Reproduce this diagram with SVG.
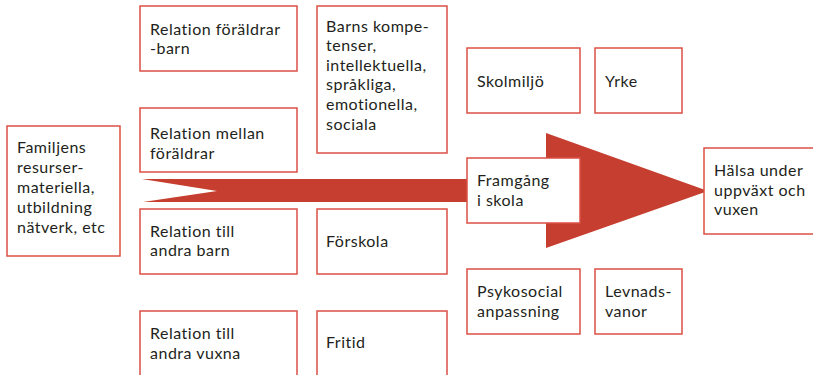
<svg xmlns="http://www.w3.org/2000/svg" width="813" height="375" viewBox="0 0 813 375">
  <style>
    .box { fill: #ffffff; stroke: #dc5046; stroke-width: 1.5; }
    .lbl { font-family: Lato, "Open Sans", sans-serif; font-size: 16px; letter-spacing: 0.5px; fill: #231f20; }
    .arrow { fill: #c63e2f; }
  </style>
  <rect width="813" height="375" fill="#ffffff"/>

  <!-- main arrow from family resources to health -->
  <g id="connectors">
    <polygon class="arrow" points="142,179 546,179 546,133 708,191 546,248 546,202 143,202 217,191"/>
  </g>

  <g id="familjens">
    <rect class="box" x="7" y="126" width="113" height="130"/>
    <text class="lbl" x="17" y="153">Familjens</text>
    <text class="lbl" x="17" y="173">resurser-</text>
    <text class="lbl" x="17" y="193">materiella,</text>
    <text class="lbl" x="17" y="213">utbildning</text>
    <text class="lbl" x="17" y="233">nätverk, etc</text>
  </g>

  <g id="rel-foraldrar-barn">
    <rect class="box" x="140" y="6" width="157" height="65"/>
    <text class="lbl" x="150" y="35">Relation föräldrar</text>
    <text class="lbl" x="150" y="54">-barn</text>
  </g>

  <g id="rel-mellan-foraldrar">
    <rect class="box" x="140" y="108" width="157" height="64"/>
    <text class="lbl" x="150" y="139">Relation mellan</text>
    <text class="lbl" x="150" y="159">föräldrar</text>
  </g>

  <g id="rel-andra-barn">
    <rect class="box" x="140" y="209" width="157" height="65"/>
    <text class="lbl" x="150" y="237">Relation till</text>
    <text class="lbl" x="150" y="256">andra barn</text>
  </g>

  <g id="rel-andra-vuxna">
    <rect class="box" x="140" y="311" width="157" height="70"/>
    <text class="lbl" x="150" y="339">Relation till</text>
    <text class="lbl" x="150" y="359">andra vuxna</text>
  </g>

  <g id="barns-kompetenser">
    <rect class="box" x="317" y="6" width="130" height="147"/>
    <text class="lbl" x="326" y="32">Barns kompe-</text>
    <text class="lbl" x="326" y="51">tenser,</text>
    <text class="lbl" x="326" y="71">intellektuella,</text>
    <text class="lbl" x="326" y="90">språkliga,</text>
    <text class="lbl" x="326" y="110">emotionella,</text>
    <text class="lbl" x="326" y="130">sociala</text>
  </g>

  <g id="forskola">
    <rect class="box" x="317" y="209" width="130" height="65"/>
    <text class="lbl" x="326" y="247">Förskola</text>
  </g>

  <g id="fritid">
    <rect class="box" x="317" y="311" width="130" height="70"/>
    <text class="lbl" x="326" y="348">Fritid</text>
  </g>

  <g id="skolmiljo">
    <rect class="box" x="467" y="48" width="113" height="65"/>
    <text class="lbl" x="477" y="87">Skolmiljö</text>
  </g>

  <g id="yrke">
    <rect class="box" x="595" y="48" width="87" height="65"/>
    <text class="lbl" x="605" y="87">Yrke</text>
  </g>

  <g id="framgang">
    <rect class="box" x="467" y="158" width="113" height="65"/>
    <text class="lbl" x="477" y="186">Framgång</text>
    <text class="lbl" x="477" y="206">i skola</text>
  </g>

  <g id="psykosocial">
    <rect class="box" x="467" y="269" width="113" height="65"/>
    <text class="lbl" x="477" y="297">Psykosocial</text>
    <text class="lbl" x="477" y="317">anpassning</text>
  </g>

  <g id="levnadsvanor">
    <rect class="box" x="595" y="269" width="87" height="65"/>
    <text class="lbl" x="605" y="297">Levnads-</text>
    <text class="lbl" x="605" y="317">vanor</text>
  </g>

  <g id="halsa">
    <rect class="box" x="704" y="148" width="120" height="86"/>
    <text class="lbl" x="714" y="176">Hälsa under</text>
    <text class="lbl" x="714" y="196">uppväxt och</text>
    <text class="lbl" x="714" y="215">vuxen</text>
  </g>
</svg>
